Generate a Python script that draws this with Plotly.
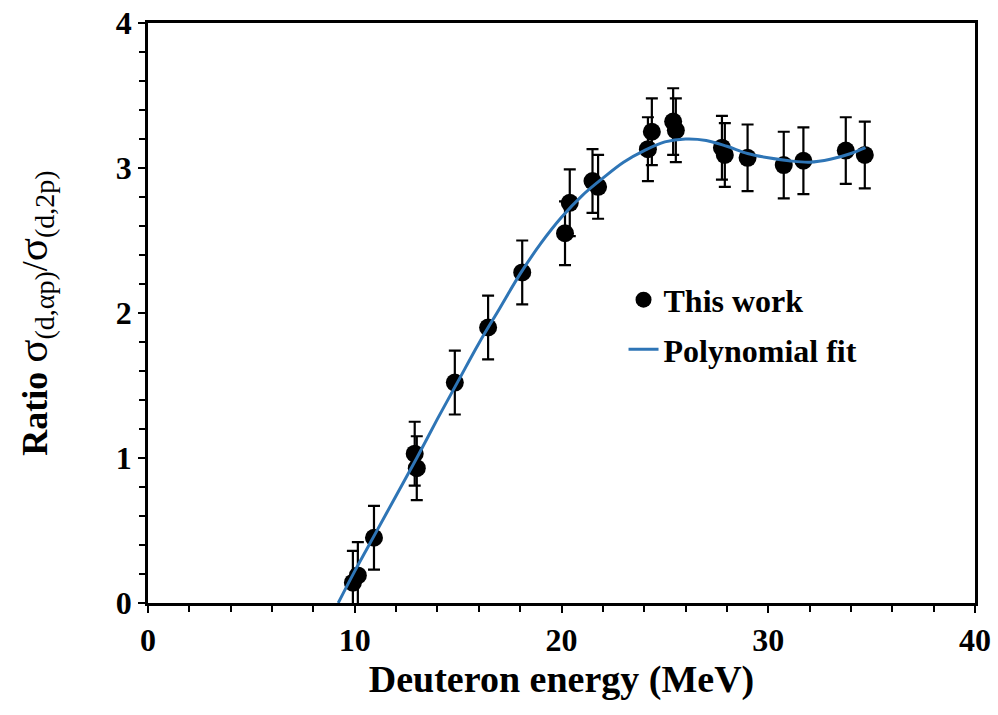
import plotly.graph_objects as go

# Data: measured ratio points
energy = [9.91, 10.15, 10.93, 12.9, 13.0, 14.84, 16.45, 18.1, 20.17, 20.4,
          21.5, 21.77, 24.18, 24.37, 25.4, 25.53, 27.76, 27.9, 29.0, 30.75,
          31.7, 33.75, 34.67]
ratio = [0.14, 0.19, 0.45, 1.03, 0.93, 1.52, 1.90, 2.28, 2.55, 2.76,
         2.91, 2.87, 3.13, 3.25, 3.32, 3.26, 3.14, 3.09, 3.07, 3.02,
         3.05, 3.12, 3.09]
ratio_err = [0.22, 0.23, 0.22, 0.22, 0.22, 0.22, 0.22, 0.22, 0.22, 0.23,
             0.22, 0.22, 0.22, 0.23, 0.23, 0.22, 0.22, 0.22, 0.23, 0.23,
             0.23, 0.23, 0.23]

# Polynomial fit curve
fit_x = [9.2, 10, 11, 12, 13, 14, 15, 16, 17, 18, 19, 20, 21, 22, 23, 24, 25,
         26, 27, 28, 29, 30, 31, 32, 33, 34, 34.7]
fit_y = [0.0, 0.22, 0.48, 0.74, 1.0, 1.27, 1.53, 1.79, 2.03, 2.27, 2.48, 2.66,
         2.81, 2.93, 3.04, 3.12, 3.18, 3.2, 3.19, 3.15, 3.1, 3.07, 3.05, 3.04,
         3.06, 3.1, 3.14]

FONT = "Liberation Serif"

fig = go.Figure()
fig.add_trace(go.Scatter(
    x=energy, y=ratio, mode="markers", name="This work", legendgroup="a",
    marker=dict(color="black", size=18, symbol="circle"),
    error_y=dict(type="data", array=ratio_err, color="black", thickness=2.2, width=6),
))
fig.add_trace(go.Scatter(
    x=fit_x, y=fit_y, mode="lines", name="Polynomial fit", legendgroup="b",
    line=dict(color="#2E75B6", width=3, shape="spline"),
))

axis_common = dict(
    showline=True, linecolor="black", linewidth=2.5, mirror=True,
    ticks="outside", tickcolor="black", tickwidth=2, ticklen=7,
    showgrid=False, zeroline=False, automargin=False,
    tickfont=dict(family=FONT, size=32, color="black", weight="bold"),
)

ytitle = ("<b>Ratio</b> <span style='font-size:43px'>σ</span>"
          "<sub><span style='font-size:28px'>(d,αp)</span></sub>/"
          "<span style='font-size:43px'>σ</span>"
          "<sub><span style='font-size:28px'>(d,2p)</span></sub>")

fig.update_layout(
    width=998, height=715,
    margin=dict(l=148, r=23, t=23, b=112),
    plot_bgcolor="white", paper_bgcolor="white",
    showlegend=True,
    legend=dict(x=0.575, y=0.57, xanchor="left", yanchor="top",
                font=dict(family=FONT, size=32, color="black", weight="bold"),
                bgcolor="rgba(0,0,0,0)", tracegroupgap=5),
    xaxis=dict(range=[0, 40], dtick=10,
               minor=dict(dtick=2, ticks="outside", ticklen=6, tickwidth=2, tickcolor="black"),
               title=dict(text="Deuteron energy (MeV)", standoff=3,
                          font=dict(family=FONT, size=38, color="black", weight="bold")),
               **axis_common),
    yaxis=dict(range=[0, 4], dtick=1,
               minor=dict(dtick=0.2, ticks="outside", ticklen=6, tickwidth=2, tickcolor="black"),
               title=dict(text=ytitle, standoff=58,
                          font=dict(family=FONT, size=36, color="black", weight="normal")),
               **axis_common),
)

fig.write_html("out.html")
